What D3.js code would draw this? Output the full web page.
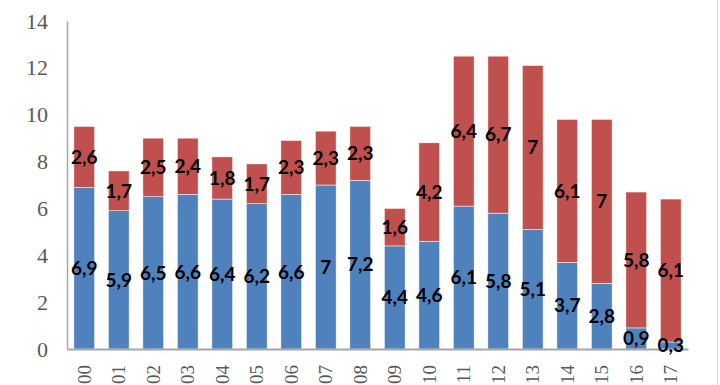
<!DOCTYPE html>
<html>
<head>
<meta charset="utf-8">
<script src="https://cdn.jsdelivr.net/npm/d3@7"></script>
<style>
  body { margin: 0; background: #fff; }
  svg { display: block; }
</style>
</head>
<body>
<div id="chartDiv"></div>
<script>
'use strict';

const years = ['00','01','02','03','04','05','06','07','08','09','10','11','12','13','14','15','16','17'];
const blueValues = [6.9, 5.9, 6.5, 6.6, 6.4, 6.2, 6.6, 7, 7.2, 4.4, 4.6, 6.1, 5.8, 5.1, 3.7, 2.8, 0.9, 0.3];
const redValues = [2.6, 1.7, 2.5, 2.4, 1.8, 1.7, 2.3, 2.3, 2.3, 1.6, 4.2, 6.4, 6.7, 7, 6.1, 7, 5.8, 6.1];
const yTicks = [0, 2, 4, 6, 8, 10, 12, 14];

const width = 720, height = 385;
const margin = { top: 21, right: 32, bottom: 36, left: 67 };
const innerW = width - margin.left - margin.right;
const innerH = height - margin.top - margin.bottom;

const svg = d3.select('#chartDiv').append('svg')
    .attr('width', width)
    .attr('height', height);

// faint frame edge on the right
svg.append('line')
    .attr('x1', width - 2.5).attr('x2', width - 2.5)
    .attr('y1', 0).attr('y2', height)
    .attr('stroke', '#d9d9d9');

const g = svg.append('g')
    .attr('transform', `translate(${margin.left},${margin.top})`);

const x = d3.scaleBand()
    .domain(years)
    .range([0, innerW])
    .paddingInner(0.4)
    .paddingOuter(0.2);

const y = d3.scaleLinear()
    .domain([0, 14])
    .range([innerH, 0]);

const data = years.map((yr, i) => ({ yr, blue: blueValues[i], red: redValues[i] }));
const stack = d3.stack().keys(['blue', 'red'])(data);
const colors = { blue: '#4f81bd', red: '#c0504d' };

// bars
stack.forEach(layer => {
    g.append('g')
        .selectAll('rect')
        .data(layer)
        .join('rect')
        .attr('x', d => x(d.data.yr))
        .attr('width', x.bandwidth())
        .attr('y', d => y(d[1]))
        .attr('height', d => y(d[0]) - y(d[1]))
        .attr('fill', colors[layer.key])
        .attr('stroke', '#fff')
        .attr('stroke-width', 0.5);
});

// y axis
const yAxis = g.append('g')
    .call(d3.axisLeft(y).tickValues(yTicks).tickSize(0).tickPadding(19));
yAxis.select('.domain').attr('stroke', '#a6a6a6').attr('stroke-width', 1.5);
yAxis.selectAll('text')
    .attr('font-family', '"Liberation Serif", "DejaVu Serif", serif')
    .attr('font-size', 22)
    .attr('fill', '#595959');

// x axis
const xAxis = g.append('g')
    .attr('transform', `translate(0,${innerH})`)
    .call(d3.axisBottom(x).tickSize(0).tickSizeOuter(0));
xAxis.select('.domain').attr('stroke', '#a6a6a6').attr('stroke-width', 2);
xAxis.selectAll('text')
    .attr('font-family', '"Liberation Serif", "DejaVu Serif", serif')
    .attr('font-size', 19)
    .attr('fill', '#595959')
    .attr('text-anchor', 'end')
    .attr('dy', '0.35em')
    .attr('transform', 'translate(0,16) rotate(-90)')
    .attr('x', 0)
    .attr('y', 0);

// data labels
const fmt = v => String(v).replace('.', ',');
stack.forEach(layer => {
    g.append('g')
        .selectAll('text')
        .data(layer)
        .join('text')
        .attr('x', d => x(d.data.yr) + x.bandwidth() / 2)
        .attr('y', d => y((d[0] + d[1]) / 2))
        .attr('dy', '0.36em')
        .attr('text-anchor', 'middle')
        .attr('font-family', 'Lato, "Open Sans", sans-serif')
        .attr('font-weight', 700)
        .attr('font-size', 19)
        .attr('fill', '#000')
        .text(d => fmt(layer.key === 'blue' ? d.data.blue : d.data.red));
});
</script>
</body>
</html>
